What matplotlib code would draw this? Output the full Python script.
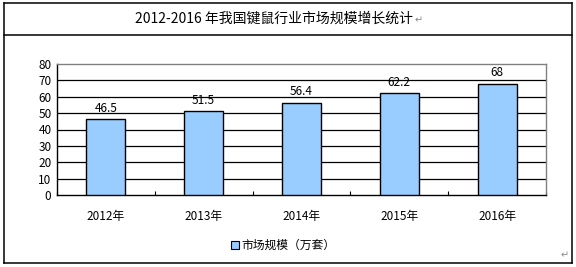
import numpy as np
import matplotlib.pyplot as plt
from matplotlib.lines import Line2D
from matplotlib.patches import Rectangle

plt.rcParams['font.family'] = ['Noto Sans CJK SC', 'DejaVu Sans']

title = "2012-2016 年我国键鼠行业市场规模增长统计"
years = ["2012年", "2013年", "2014年", "2015年", "2016年"]
values = [46.5, 51.5, 56.4, 62.2, 68]
value_labels = ["46.5", "51.5", "56.4", "62.2", "68"]
series_name = "市场规模（万套）"
yticks = [0, 10, 20, 30, 40, 50, 60, 70, 80]

W, H = 576, 267
fig = plt.figure(figsize=(W / 100, H / 100), dpi=100)
fig.patch.set_facecolor('white')

def fx(px):
    return px / W

def fy(py):
    return 1 - py / H

# outer table frame and title row separator
frame = [
    ((4, 572), (3, 3)),
    ((4, 572), (35, 35)),
    ((4, 572), (263, 263)),
    ((4, 4), (3, 263)),
    ((572, 572), (3, 263)),
]
for xs, ys in frame:
    fig.add_artist(Line2D([fx(xs[0]), fx(xs[1])], [fy(ys[0]), fy(ys[1])],
                          color='black', lw=1.1))

t = fig.text(fx(135), fy(19), title, fontsize=10, va='center', ha='left')
fig.canvas.draw()
bb = t.get_window_extent()
fig.text(bb.x1 / W + fx(2), fy(20), "↵", fontsize=7, color='#888888',
         va='center', ha='left', family='DejaVu Sans')
fig.text(fx(561), fy(255), "↵", fontsize=7, color='#888888', va='center',
         ha='left', family='DejaVu Sans')

ax = fig.add_axes([fx(57), fy(195), fx(546) - fx(57), fy(64) - fy(195)])
x = np.arange(len(years))
bars = ax.bar(x, values, width=0.4, color='#99CCFF', edgecolor='black',
              linewidth=1.0, zorder=3)
for b, lab in zip(bars, value_labels):
    ax.annotate(lab, (b.get_x() + b.get_width() / 2, b.get_height()),
                xytext=(0, 3), textcoords='offset points', ha='center',
                va='bottom', fontsize=8.5)

ax.set_xlim(-0.5, len(years) - 0.5)
ax.set_ylim(0, 80)
ax.set_yticks(yticks)
ax.set_yticklabels([str(v) for v in yticks], fontsize=8.5)
ax.set_xticks(x)
ax.set_xticklabels(years, fontsize=8.5)
ax.set_xticks(np.arange(len(years) + 1) - 0.5, minor=True)
ax.tick_params(axis='x', which='major', length=0, pad=11)
ax.tick_params(axis='x', which='minor', direction='in', length=3, width=0.8)
ax.tick_params(axis='y', length=0, pad=4)
for v in yticks[1:-1]:
    ax.axhline(v, color='black', lw=0.9, zorder=1)

ax.spines['left'].set_color('black')
ax.spines['bottom'].set_color('black')
ax.spines['top'].set_color('#808080')
ax.spines['right'].set_color('#808080')
for s in ax.spines.values():
    s.set_linewidth(1.0)

# legend
fig.add_artist(Rectangle((fx(231), fy(249)), fx(8), fy(241) - fy(249),
                         facecolor='#99CCFF', edgecolor='black', lw=0.8))
fig.text(fx(241), fy(245), series_name, fontsize=8.5, va='center', ha='left')

fig.savefig('out.png', dpi=100)
